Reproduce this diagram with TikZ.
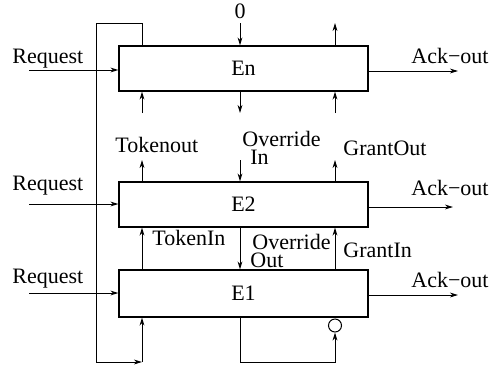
\documentclass[tikz,border=0pt]{standalone}
\usepackage{fontspec}
\setmainfont{Liberation Serif}
\usetikzlibrary{arrows.meta}
\begin{document}
\begin{tikzpicture}[x=0.5pt,y=-0.5pt,
  box/.style={draw, line width=0.6pt, minimum width=124.5pt, minimum height=22.5pt, inner sep=0pt, font=\fontsize{11}{13}\selectfont},
  arr/.style={-{Stealth[length=4pt,width=2.4pt,inset=1.2pt]}, line width=0.5pt},
  ln/.style={line width=0.5pt},
  lbl/.style={font=\fontsize{11}{13}\selectfont, inner sep=0pt, anchor=base west}]
\useasboundingbox (0,0) rectangle (491,370);
% boxes
\node[box] (En) at (243.5,68.5) {En};
\node[box] (E2) at (243.5,204.5) {E2};
\node[box, minimum height=23.5pt] (E1) at (243.5,293.5) {E1};
% columns
\coordinate (cA) at (142,0);
\coordinate (cB) at (240,0);
\coordinate (cC) at (335,0);
% request inputs
\coordinate (rqn) at (29,70);
\coordinate (rq2) at (29,204);
\coordinate (rq1) at (29,293);
\draw[arr] (rqn) -- (rqn -| En.west);
\draw[arr] (rq2) -- (rq2 -| E2.west);
\draw[arr] (rq1) -- (rq1 -| E1.west);
\node[lbl] (lrqn) at (12,63) {Request};
\node[lbl] (lrq2) at (12,190) {Request};
\node[lbl] (lrq1) at (12,283) {Request};
% ack outputs
\coordinate (akn) at (458,71);
\coordinate (ak2) at (453,207);
\coordinate (ak1) at (458,295);
\draw[arr] (En.east |- akn) -- (akn);
\draw[arr] (E2.east |- ak2) -- (ak2);
\draw[arr] (E1.east |- ak1) -- (ak1);
\node[lbl] (lakn) at (411,63) {Ack−out};
\node[lbl] (lak2) at (411,195) {Ack−out};
\node[lbl] (lak1) at (411,287) {Ack−out};
% loop on the left
\coordinate (lt) at (96,23);
\coordinate (lb) at (96,362);
\coordinate (lc) at (142,362);
\draw[ln] (En.north -| cA) |- (lt) -- (lb);
\draw[arr] (lb) -- (lc);
\draw[arr] (lc) -- (E1.south -| lc);
% En top
\coordinate (t0) at (240,23);
\draw[arr] (t0) -- (En.north -| t0);
\node[lbl, anchor=base] (zero) at (240,18) {0};
\coordinate (tgo) at (335,23);
\draw[arr] (En.north -| tgo) -- (tgo);
% En bottom
\coordinate (bA) at (142,113);
\coordinate (bB) at (240,113);
\coordinate (bC) at (335,113);
\draw[arr] (bA) -- (En.south -| bA);
\draw[arr] (En.south -| bB) -- (bB);
\draw[arr] (bC) -- (En.south -| bC);
% E2 top
\coordinate (uA) at (142,160);
\coordinate (uB) at (240,160);
\coordinate (uC) at (335,160);
\draw[arr] (E2.north -| uA) -- (uA);
\draw[arr] (uB) -- (E2.north -| uB);
\draw[arr] (E2.north -| uC) -- (uC);
\node[lbl] (ltko) at (115,152) {Tokenout};
\node[lbl] (lovi1) at (242,146) {Override};
\node[lbl] (lovi2) at (250,164) {In};
\node[lbl] (lgo) at (343,155) {GrantOut};
% between E2 and E1
\draw[arr] (E1.north -| cA) -- (E2.south -| cA);
\draw[arr] (E2.south -| cB) -- (E1.north -| cB);
\draw[arr] (E1.north -| cC) -- (E2.south -| cC);
\node[lbl] (ltki) at (152,245) {TokenIn};
\node[lbl] (lovo1) at (252,249) {Override};
\node[lbl] (lovo2) at (250,267) {Out};
\node[lbl] (lgi) at (343,257) {GrantIn};
% E1 bottom feedback with inverter bubble
\node[circle, draw, minimum size=6.5pt, inner sep=0pt, line width=0.5pt] (inv) at (335,325.5) {};
\coordinate (bb) at (240,362);
\draw[arr] (E1.south -| bb) -- (bb) -| (inv.south);
\end{tikzpicture}
\end{document}
